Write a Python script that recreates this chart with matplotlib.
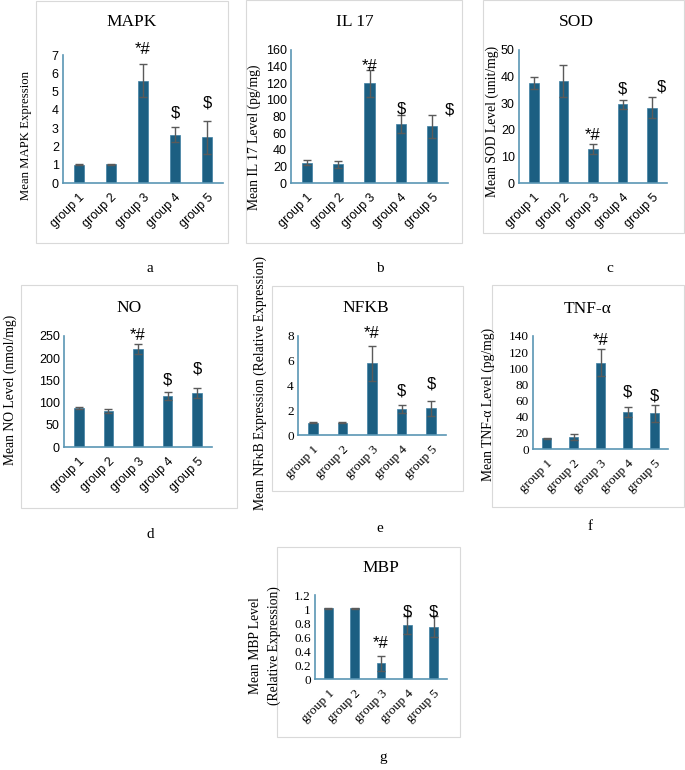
import matplotlib
matplotlib.use("Agg")
import matplotlib.pyplot as plt
from matplotlib.patches import Rectangle
import numpy as np

# data (mean, error)
groups = ["group 1", "group 2", "group 3", "group 4", "group 5"]
marks = ["", "", "*#", "$", "$"]

mapk_mean = [1.0, 1.02, 5.6, 2.63, 2.5]
mapk_err = [0.02, 0.03, 0.9, 0.41, 0.9]

il17_mean = [24.4, 22.5, 120, 71, 68]
il17_err = [3, 4, 16, 11, 14]

sod_mean = [37.5, 38.5, 12.8, 29.6, 28.3]
sod_err = [2.2, 6, 2, 1.6, 4]

no_mean = [87, 81, 220, 115.5, 122]
no_err = [2, 4, 11, 9, 11]

nfkb_mean = [1.0, 1.0, 5.8, 2.1, 2.15]
nfkb_err = [0.03, 0.03, 1.4, 0.35, 0.6]

tnf_mean = [13.2, 14.5, 107, 46, 44]
tnf_err = [1, 3.5, 17, 6, 10]

mbp_mean = [1.01, 1.01, 0.224, 0.77, 0.75]
mbp_err = [0.01, 0.01, 0.11, 0.13, 0.15]

W, H = 685, 770
fig = plt.figure(figsize=(W / 100, H / 100), dpi=100)

SERIF = "Liberation Serif"
SANS = "Liberation Sans"
BAR = "#1c5f82"
SPINE = "#5a96b4"

def frame(l, t, r, b):
    fig.patches.append(Rectangle((l / W, 1 - b / H), (r - l) / W, (b - t) / H,
                                 transform=fig.transFigure, fill=False,
                                 ec="#d9d9d9", lw=0.8))

def ftext(x, y, s, **kw):
    fig.text(x / W, 1 - y / H, s, ha="center", va="center", **kw)

# panel layout: axes box (px), frame box (px), ylim/step, label pos etc.
panels = [
    dict(title="MAPK", mean=mapk_mean, err=mapk_err, ylim=7, step=1,
         ax=(63, 55, 223, 183), fr=(36, 1, 228, 243), tpos=(132, 22),
         ylab="Mean MAPK Expression", ypos=(26, 135), ysize=9.2, letter=("a", 150, 268),
         lab_y=[None, None, 7.3, 3.85, 4.35], lab_dx=[0, 0, 0, 0, 0], tfont=SANS, tsize=9),
    dict(title="IL 17", mean=il17_mean, err=il17_err, ylim=160, step=20,
         ax=(291, 50, 448, 183), fr=(246, 0, 462, 243), tpos=(355, 22),
         ylab="Mean IL 17 Level (pg/mg)", ypos=(254, 137), ysize=9.8, letter=("b", 380, 268),
         lab_y=[None, None, 140, 89, 88], lab_dx=[0, 0, 0, 0, 0.55], tfont=SANS, tsize=9),
    dict(title="SOD", mean=sod_mean, err=sod_err, ylim=50, step=10,
         ax=(519, 50, 667, 183), fr=(483, 0, 684, 233), tpos=(576, 22),
         ylab="Mean SOD Level (unit/mg)", ypos=(492, 121), ysize=9.8, letter=("c", 610, 268),
         lab_y=[None, None, 17.7, 35.3, 36], lab_dx=[0, 0, 0, 0, 0.3], tfont=SANS, tsize=9),
    dict(title="NO", mean=no_mean, err=no_err, ylim=250, step=50,
         ax=(64, 336, 212, 447), fr=(21, 285, 237, 508), tpos=(129, 308),
         ylab="Mean NO Level (nmol/mg)", ypos=(10, 390), ysize=9.8, letter=("d", 150, 535),
         lab_y=[None, None, 252, 151, 175], lab_dx=[0, 0, 0, 0, 0], tfont=SANS, tsize=9),
    dict(title="NFKB", mean=nfkb_mean, err=nfkb_err, ylim=8, step=2,
         ax=(298, 336, 446, 435), fr=(272, 286, 463, 491), tpos=(366, 308),
         ylab="Mean NF\u03baB Expression (Relative Expression)", ypos=(260, 383), ysize=9.8,
         letter=("e", 380, 528),
         lab_y=[None, None, 8.2, 3.57, 4.09], lab_dx=[0, 0, 0, 0, 0], tfont=SERIF, tsize=9.5),
    dict(title="TNF-\u03b1", mean=tnf_mean, err=tnf_err, ylim=140, step=20,
         ax=(533, 336, 668, 449), fr=(492, 285, 684, 507), tpos=(588, 309),
         ylab="Mean TNF-\u03b1 Level (pg/mg)", ypos=(488, 404), ysize=9.8, letter=("f", 590, 527),
         lab_y=[None, None, 135, 71, 66], lab_dx=[0, 0, 0, 0, 0], tfont=SERIF, tsize=9.5),
    dict(title="MBP", mean=mbp_mean, err=mbp_err, ylim=1.2, step=0.2,
         ax=(315, 595, 447, 679), fr=(277, 547, 460, 737), tpos=(381, 568),
         ylab="Mean MBP Level\n(Relative Expression)", ypos=(265, 646), ysize=9.8,
         letter=("g", 383, 757),
         lab_y=[None, None, 0.5, 0.95, 0.95], lab_dx=[0, 0, 0, 0, 0], tfont=SERIF, tsize=9.5),
]

x = np.arange(len(groups))

for p in panels:
    l, t, r, b = p["ax"]
    ax = fig.add_axes([l / W, 1 - b / H, (r - l) / W, (b - t) / H])
    frame(*p["fr"])

    ax.bar(x, p["mean"], width=0.33, color=BAR, edgecolor="#3f80a2", lw=0.5, zorder=2)
    ax.errorbar(x, p["mean"], yerr=p["err"], fmt="none", ecolor="#5a5a5a",
                elinewidth=1, capsize=3, capthick=1, zorder=3)

    ax.set_xlim(-0.5, 4.5)
    ax.set_ylim(0, p["ylim"])
    ticks = np.arange(0, p["ylim"] + p["step"] / 2, p["step"])
    ax.set_yticks(ticks, ["%g" % round(v, 1) for v in ticks],
                  fontfamily=p["tfont"], fontsize=p["tsize"])
    ax.set_xticks(x, groups, rotation=45, ha="right", rotation_mode="anchor",
                  fontfamily=p["tfont"], fontsize=p["tsize"])
    ax.tick_params(length=0, pad=3)
    ax.tick_params(axis="x", pad=6)
    for s in ["top", "right"]:
        ax.spines[s].set_visible(False)
    for s in ["left", "bottom"]:
        ax.spines[s].set_color(SPINE)
        ax.spines[s].set_linewidth(1.2)
    ax.patch.set_alpha(0)

    # significance marks
    for i, m in enumerate(marks):
        if p["lab_y"][i] is not None:
            ax.text(x[i] + p["lab_dx"][i], p["lab_y"][i], m, ha="center", va="center",
                    fontfamily=SANS, fontsize=12, zorder=4)

    ftext(*p["tpos"], p["title"], fontfamily=SERIF, fontsize=12.5)
    ftext(*p["ypos"], p["ylab"], fontfamily=SERIF, fontsize=p["ysize"], rotation=90,
          linespacing=1.5)
    ftext(p["letter"][1], p["letter"][2], p["letter"][0], fontfamily=SERIF, fontsize=11)

fig.savefig("out.png", dpi=100)
